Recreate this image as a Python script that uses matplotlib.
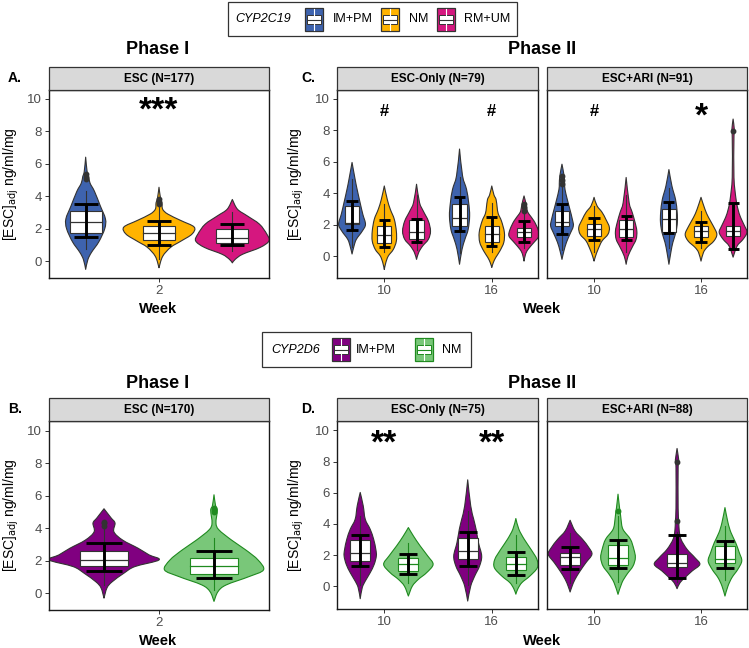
import matplotlib
matplotlib.use('Agg')
import matplotlib.pyplot as plt
from matplotlib.patches import Rectangle, PathPatch
from matplotlib.path import Path
import numpy as np

plt.rcParams['font.family'] = ['Liberation Sans', 'DejaVu Sans']

W, H = 749, 648

# ---------------- data ----------------
c19_groups = ['IM+PM', 'NM', 'RM+UM']
c19_fill = ['#3E63AE', '#FFB300', '#D5177F']
d6_groups = ['IM+PM', 'NM']
d6_fill = ['#800080', '#79C779']
d6_edge = ['#333333', '#1F8A1F']
weeks = ['10', '16']

# Panel A: CYP2C19, Phase I, week 2
A_prof_y = [[6.4, 5.5, 5.2, 4.8, 4.3, 3.4, 2.6, 2.0, 1.2, 0.55, 0.1, -0.5],
            [4.55, 3.9, 3.6, 3.2, 2.9, 2.5, 2.1, 1.67, 1.24, 0.86, 0.3, -0.4],
            [3.8, 3.2, 2.8, 2.28, 1.67, 1.25, 0.85, 0.43, 0.12, -0.1]]
A_prof_w = [[0, 0.02, 0.04, 0.06, 0.12, 0.2, 0.27, 0.26, 0.18, 0.08, 0.03, 0],
            [0, 0.02, 0.04, 0.05, 0.12, 0.3, 0.48, 0.45, 0.3, 0.16, 0.05, 0],
            [0, 0.07, 0.2, 0.37, 0.47, 0.5, 0.38, 0.14, 0.04, 0]]
A_box = [(1.73, 2.4, 3.1), (1.3, 1.73, 2.15), (1.1, 1.42, 1.98)]
A_whisk = [(0.74, 4.3), (0.15, 3.35), (0.65, 3.0)]
A_err = [(1.5, 3.5), (1.0, 2.47), (1.02, 2.3)]
A_out = [[5.05, 5.2, 5.35], [3.5, 3.65, 3.8], []]

# Panel C: CYP2C19, Phase II; order wk10 (IM+PM, NM, RM+UM), wk16 (...)
C1_prof_y = [[5.95, 4.9, 4.25, 3.4, 2.67, 2.03, 1.6, 1.08, 0.65, 0.15],
             [4.46, 3.6, 2.98, 2.35, 1.6, 0.97, 0.44, 0.02, -0.4, -0.83],
             [4.57, 3.4, 2.88, 2.24, 1.6, 1.08, 0.65, 0.25, -0.19],
             [6.8, 5.1, 4.25, 3.4, 2.56, 1.7, 1.08, 0.44, -0.5],
             [4.46, 3.9, 3.6, 3.1, 2.7, 2.24, 1.52, 0.89, 0.34, -0.07, -0.4, -0.7],
             [3.83, 3.3, 2.9, 2.67, 2.24, 1.71, 1.29, 0.89, 0.44, 0.13, -0.3]]
C1_prof_w = [[0, 0.028, 0.047, 0.075, 0.1, 0.125, 0.095, 0.04, 0.018, 0],
             [0, 0.028, 0.056, 0.093, 0.112, 0.112, 0.084, 0.037, 0.014, 0],
             [0, 0.028, 0.062, 0.11, 0.13, 0.11, 0.056, 0.02, 0],
             [0, 0.028, 0.065, 0.085, 0.094, 0.08, 0.05, 0.023, 0],
             [0, 0.02, 0.04, 0.05, 0.06, 0.09, 0.117, 0.112, 0.075, 0.037, 0.014, 0],
             [0, 0.02, 0.03, 0.047, 0.093, 0.13, 0.14, 0.093, 0.037, 0.014, 0]]
C1_box = [(2.03, 2.1, 3.2), (0.85, 1.35, 1.9), (1.08, 1.55, 2.28),
          (1.95, 2.4, 3.3), (0.91, 1.42, 1.9), (1.2, 1.52, 1.78)]
C1_whisk = [(0.6, 4.9), (0.3, 3.3), (0.4, 3.9), (0.2, 5.0), (0.3, 3.4), (0.5, 2.7)]
C1_err = [(1.67, 3.5), (0.6, 2.3), (0.93, 2.37), (1.6, 3.74), (0.67, 2.47), (0.89, 2.24)]
C1_out = [[], [], [], [], [], [2.9, 3.1, 3.3]]

C2_prof_y = [[5.84, 5.1, 4.6, 4.25, 3.6, 2.98, 2.35, 1.92, 1.4, 0.89, 0.34, -0.19],
             [3.74, 3.2, 2.8, 2.35, 1.84, 1.4, 0.97, 0.44, 0.02, -0.3],
             [5.0, 3.4, 2.8, 2.16, 1.6, 1.08, 0.57, 0.02, -0.5],
             [5.5, 4.46, 3.6, 2.8, 2.16, 1.52, 0.89, 0.25, -0.5],
             [3.74, 2.98, 2.47, 1.92, 1.4, 0.97, 0.57, 0.25, -0.3],
             [8.7, 8.0, 7.5, 5.0, 3.6, 2.98, 2.47, 1.92, 1.52, 1.08, 0.65, -0.05]]
C2_prof_w = [[0, 0.02, 0.025, 0.028, 0.05, 0.074, 0.097, 0.106, 0.074, 0.042, 0.018, 0],
             [0, 0.028, 0.074, 0.11, 0.143, 0.13, 0.074, 0.037, 0.014, 0],
             [0, 0.028, 0.056, 0.083, 0.1, 0.093, 0.056, 0.018, 0],
             [0, 0.028, 0.062, 0.077, 0.079, 0.065, 0.037, 0.018, 0],
             [0, 0.037, 0.07, 0.115, 0.148, 0.12, 0.056, 0.023, 0],
             [0, 0.012, 0.008, 0.008, 0.028, 0.046, 0.07, 0.108, 0.13, 0.093, 0.037, 0]]
C2_box = [(1.9, 2.15, 2.88), (1.29, 1.71, 2.03), (1.23, 1.71, 2.28),
          (1.52, 2.38, 3.0), (1.2, 1.6, 1.92), (1.29, 1.6, 1.92)]
C2_whisk = [(0.4, 4.5), (0.3, 3.2), (0.3, 3.9), (0.5, 4.3), (0.5, 2.9), (0.5, 2.9)]
C2_err = [(1.43, 3.3), (1.03, 2.4), (1.03, 2.56), (1.46, 3.42), (0.89, 2.18), (0.47, 3.36)]
C2_out = [[4.6, 4.85, 5.1], [], [], [], [], [7.96]]

# Panel B: CYP2D6, Phase I, week 2
B_prof_y = [[5.2, 4.64, 4.32, 3.78, 3.27, 2.77, 2.36, 2.05, 1.64, 1.23, 0.7, 0.33, -0.3],
            [6.06, 5.4, 5.1, 4.32, 3.9, 3.27, 2.66, 2.05, 1.44, 1.03, 0.51, 0.1, -0.5]]
B_prof_w = [[0, 0.064, 0.1, 0.09, 0.17, 0.31, 0.41, 0.5, 0.28, 0.18, 0.073, 0.027, 0],
            [0, 0.014, 0.03, 0.018, 0.045, 0.16, 0.29, 0.4, 0.45, 0.32, 0.11, 0.036, 0]]
B_box = [(1.68, 2.05, 2.61), (1.19, 1.7, 2.2)]
B_whisk = [(0.5, 4.0), (0.2, 3.4)]
B_err = [(1.34, 3.12), (0.96, 2.57)]
B_out = [[4.15, 4.3, 4.4], [5.0, 5.15, 5.25]]

# Panel D: CYP2D6, Phase II; order wk10 (IM+PM, NM), wk16 (IM+PM, NM)
D1_prof_y = [[6.02, 5.16, 4.3, 3.66, 3.02, 2.38, 1.95, 1.41, 0.88, 0.34, -0.08, -0.79],
             [3.77, 3.23, 2.59, 1.95, 1.41, 0.88, 0.45, 0.02, -0.62],
             [6.83, 5.16, 4.3, 3.66, 2.8, 1.95, 1.3, 0.66, 0.02, -0.94],
             [4.35, 3.66, 3.02, 2.38, 1.73, 1.2, 0.66, 0.24, -0.15, -0.5]]
D1_prof_w = [[0, 0.028, 0.047, 0.093, 0.125, 0.145, 0.15, 0.13, 0.093, 0.047, 0.019, 0],
             [0, 0.047, 0.11, 0.18, 0.23, 0.17, 0.093, 0.037, 0],
             [0, 0.028, 0.056, 0.078, 0.1, 0.13, 0.11, 0.065, 0.028, 0],
             [0, 0.028, 0.078, 0.14, 0.196, 0.2, 0.13, 0.056, 0.019, 0]]
D1_box = [(1.63, 2.16, 2.98), (0.98, 1.46, 1.84), (1.73, 2.27, 3.12), (1.05, 1.41, 1.9)]
D1_whisk = [(0.1, 4.5), (0.2, 2.8), (0.1, 4.8), (0.2, 3.3)]
D1_err = [(1.28, 3.28), (0.77, 2.1), (1.3, 3.49), (0.73, 2.23)]
D1_out = [[], [], [], []]

D2_prof_y = [[4.24, 3.55, 3.02, 2.48, 2.05, 1.52, 0.98, 0.45, 0.02, -0.36],
             [5.91, 5.0, 4.84, 4.3, 3.66, 3.02, 2.38, 1.84, 1.3, 0.77, 0.24, -0.51],
             [8.84, 8.3, 7.98, 7.6, 5.0, 4.2, 3.6, 3.02, 2.38, 1.84, 1.41, 0.98, 0.56, 0.24, -0.15],
             [5.05, 4.09, 3.45, 2.8, 2.16, 1.63, 1.09, 0.56, 0.02, -0.62]]
D2_prof_w = [[0, 0.046, 0.116, 0.176, 0.204, 0.148, 0.093, 0.046, 0.019, 0],
             [0, 0.015, 0.02, 0.028, 0.046, 0.116, 0.148, 0.162, 0.14, 0.083, 0.037, 0],
             [0, 0.012, 0.016, 0.01, 0.01, 0.016, 0.02, 0.037, 0.093, 0.167, 0.213, 0.14, 0.074, 0.028, 0],
             [0, 0.028, 0.056, 0.1, 0.134, 0.157, 0.12, 0.065, 0.028, 0]]
D2_box = [(1.35, 1.9, 2.16), (1.35, 1.84, 2.63), (1.26, 1.52, 2.05), (1.52, 1.78, 2.59)]
D2_whisk = [(0.2, 3.4), (0.3, 4.5), (0.3, 3.5), (0.4, 3.9)]
D2_err = [(1.09, 2.55), (1.2, 2.98), (0.56, 3.28), (1.16, 2.91)]
D2_out = [[], [4.84], [7.98, 4.2], []]

# significance marks
A_sig = ['***']
C1_sig = ['#', '#']
C2_sig = ['#', '*']
D1_sig = ['**', '**']


# ---------------- drawing helpers ----------------
fig = plt.figure(figsize=(W / 100, H / 100), dpi=100)
over = fig.add_axes([0, 0, 1, 1])
over.set_xlim(0, W)
over.set_ylim(H, 0)
over.axis('off')
over.set_zorder(10)


def px_ax(x0, y0, x1, y1):
    return fig.add_axes([x0 / W, 1 - y1 / H, (x1 - x0) / W, (y1 - y0) / H])


def bezier_side(pts):
    # smooth open curve through the outline knots (Catmull-Rom as cubic Bezier)
    n = len(pts)
    verts, codes = [], []
    for i in range(n - 1):
        p0 = pts[max(i - 1, 0)]
        p1 = pts[i]
        p2 = pts[i + 1]
        p3 = pts[min(i + 2, n - 1)]
        c1 = p1 + (p2 - p0) / 6.0
        c2 = p2 - (p3 - p1) / 6.0
        verts += [c1, c2, p2]
        codes += [Path.CURVE4] * 3
    return verts, codes


def violin(ax, x, ys, ws, box, whisk, err, outs, fill, edge, boxw, capw):
    ys = np.array(ys, float)
    ws = np.array(ws, float)
    right = np.column_stack([x + ws, ys])
    left = np.column_stack([x - ws, ys])[::-1]
    v1, c1 = bezier_side(right)
    v2, c2 = bezier_side(left)
    verts = [right[0]] + v1 + v2 + [right[0]]
    codes = [Path.MOVETO] + c1 + c2 + [Path.CLOSEPOLY]
    ax.add_patch(PathPatch(Path(verts, codes), facecolor=fill, edgecolor=edge,
                           lw=0.8, joinstyle='round', zorder=2))
    ax.plot([x, x], whisk, color=edge, lw=0.8, zorder=3)
    q1, med, q3 = box
    ax.add_patch(Rectangle((x - boxw, q1), 2 * boxw, q3 - q1, facecolor='white',
                           edgecolor=edge, lw=0.8, zorder=4))
    ax.plot([x - boxw, x + boxw], [med, med], color=edge, lw=0.9, zorder=5)
    ax.plot([x, x], err, color='black', lw=2.1, zorder=6, solid_capstyle='butt')
    for e in err:
        ax.plot([x - capw, x + capw], [e, e], color='black', lw=2.1, zorder=6,
                solid_capstyle='butt')
    if outs:
        ax.plot([x] * len(outs), outs, 'o', ms=3.2, color=edge, zorder=7)


def style(ax, xlim, ylim, ticks, labels, show_y=True):
    ax.set_xlim(xlim)
    ax.set_ylim(ylim)
    ax.set_xticks(ticks)
    ax.set_xticklabels(labels)
    ax.set_yticks([0, 2, 4, 6, 8, 10])
    ax.tick_params(colors='#333333', labelcolor='#4D4D4D', labelsize=9.5,
                   length=3, width=0.7, pad=2)
    if not show_y:
        ax.tick_params(axis='y', left=False, labelleft=False)
    for s in ax.spines.values():
        s.set_color('#1A1A1A')
        s.set_linewidth(1.0)


def strip(x0, x1, y0, y1, text):
    over.add_patch(Rectangle((x0, y0), x1 - x0, y1 - y0, facecolor='#D9D9D9',
                             edgecolor='#333333', lw=0.9))
    over.text((x0 + x1) / 2, (y0 + y1) / 2 + 0.5, text, ha='center', va='center',
              fontsize=8.5, fontweight='bold')


def sig(ax, x, y, s):
    fs = 12 if s == '#' else 24
    dy = 0 if s == '#' else -0.35
    ax.text(x, y + dy, s, ha='center', va='center', fontsize=fs,
            fontweight='bold', zorder=8)


ylab = '[ESC]$_{\\mathrm{adj}}$ ng/ml/mg'

# ---------------- Panel A ----------------
axA = px_ax(49, 90, 269, 278)
A_pos = [-1, 0, 1]
for i in range(3):
    violin(axA, A_pos[i], A_prof_y[i], A_prof_w[i], A_box[i], A_whisk[i], A_err[i],
           A_out[i], c19_fill[i], '#333333', 0.22, 0.165)
style(axA, (-1.5, 1.5), (-1.03, 10.53), [0], ['2'])
sig(axA, 0, 9.6, A_sig[0])

# ---------------- Panel C ----------------
c_off = [-0.3, 0, 0.3]
axC = [px_ax(337, 90, 538, 278), px_ax(547, 90, 747, 278)]
C_data = [(C1_prof_y, C1_prof_w, C1_box, C1_whisk, C1_err, C1_out, C1_sig),
          (C2_prof_y, C2_prof_w, C2_box, C2_whisk, C2_err, C2_out, C2_sig)]
for f, ax in enumerate(axC):
    py, pw, bx, wk, er, ou, sg = C_data[f]
    for w in range(2):
        for g in range(3):
            k = w * 3 + g
            violin(ax, w + c_off[g], py[k], pw[k], bx[k], wk[k], er[k], ou[k],
                   c19_fill[g], '#333333', 0.066, 0.052)
        sig(ax, w, 9.2, sg[w])
    style(ax, (-0.44, 1.43), (-1.37, 10.54), [0, 1], weeks, show_y=(f == 0))

# ---------------- Panel B ----------------
axB = px_ax(49, 421, 269, 610)
B_pos = [-0.5, 0.5]
for i in range(2):
    violin(axB, B_pos[i], B_prof_y[i], B_prof_w[i], B_box[i], B_whisk[i], B_err[i],
           B_out[i], d6_fill[i], d6_edge[i], 0.214, 0.168)
style(axB, (-1, 1), (-1.03, 10.6), [0], ['2'])

# ---------------- Panel D ----------------
d_off = [-0.224, 0.224]
axD = [px_ax(337, 421, 538, 609), px_ax(547, 421, 747, 609)]
D_data = [(D1_prof_y, D1_prof_w, D1_box, D1_whisk, D1_err, D1_out),
          (D2_prof_y, D2_prof_w, D2_box, D2_whisk, D2_err, D2_out)]
for f, ax in enumerate(axD):
    py, pw, bx, wk, er, ou = D_data[f]
    for w in range(2):
        for g in range(2):
            k = w * 2 + g
            violin(ax, w + d_off[g], py[k], pw[k], bx[k], wk[k], er[k], ou[k],
                   d6_fill[g], d6_edge[g], 0.093, 0.084)
        if f == 0:
            sig(axD[0], w, 9.45, D1_sig[w])
    style(ax, (-0.44, 1.43), (-1.45, 10.6), [0, 1], weeks, show_y=(f == 0))

# ---------------- strips, titles, labels ----------------
strip(49, 269, 67, 90, 'ESC (N=177)')
strip(337, 538, 67, 90, 'ESC-Only (N=79)')
strip(547, 747, 67, 90, 'ESC+ARI (N=91)')
strip(49, 269, 398, 421, 'ESC (N=170)')
strip(337, 538, 398, 421, 'ESC-Only (N=75)')
strip(547, 747, 398, 421, 'ESC+ARI (N=88)')

for yy in (50, 384):
    over.text(158, yy, 'Phase I', ha='center', va='center', fontsize=13, fontweight='bold')
    over.text(542, yy, 'Phase II', ha='center', va='center', fontsize=13, fontweight='bold')

for lab, x, y in [('A.', 15, 78), ('C.', 308, 78), ('B.', 15, 409), ('D.', 308, 409)]:
    over.text(x, y, lab, ha='center', va='center', fontsize=10, fontweight='bold')

for x, y in [(11, 184), (296, 184), (11, 515), (296, 515)]:
    over.text(x, y, ylab, rotation=90, ha='center', va='center', fontsize=10)

for x, y in [(158, 309), (542, 309), (158, 641), (542, 641)]:
    over.text(x, y, 'Week', ha='center', va='center', fontsize=10.5, fontweight='bold')


# ---------------- legends ----------------
def key(x, y, fill, edge):
    w, h = 18, 23
    over.add_patch(Rectangle((x, y), w, h, facecolor=fill, edgecolor=edge, lw=0.9))
    over.add_patch(Rectangle((x + 2, y + h * 0.3), w - 4, h * 0.4, facecolor='white',
                             edgecolor=edge, lw=0.7))
    over.plot([x + 2, x + w - 2], [y + h / 2, y + h / 2], color=edge, lw=0.8)
    over.plot([x + w / 2, x + w / 2], [y + 1, y + h * 0.3], color='white', lw=0.8)
    over.plot([x + w / 2, x + w / 2], [y + h * 0.7, y + h - 1], color='white', lw=0.8)


over.add_patch(Rectangle((228, 2), 289, 34, facecolor='white', edgecolor='#333333', lw=0.9))
over.text(235, 19.5, 'CYP2C19', ha='left', va='center', fontsize=9, style='italic')
for i, (kx, tx) in enumerate([(305, 333), (381, 409), (437, 464)]):
    key(kx, 8, c19_fill[i], '#333333')
    over.text(tx, 19.5, c19_groups[i], ha='left', va='center', fontsize=9)

over.add_patch(Rectangle((262, 332), 209, 35, facecolor='white', edgecolor='#333333', lw=0.9))
over.text(271, 350, 'CYP2D6', ha='left', va='center', fontsize=9, style='italic')
for i, (kx, tx) in enumerate([(332, 356), (415, 442)]):
    key(kx, 338, d6_fill[i], d6_edge[i])
    over.text(tx, 350, d6_groups[i], ha='left', va='center', fontsize=9)

fig.savefig('out.png', dpi=100)
